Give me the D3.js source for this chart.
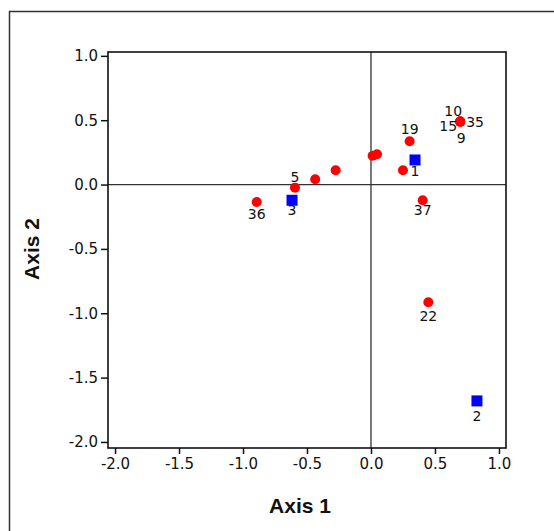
<!DOCTYPE html>
<html>
<head>
<meta charset="utf-8">
<script src="https://cdn.jsdelivr.net/npm/d3@7"></script>
<style>
  body { margin: 0; background: #fff; }
  text { font-family: "DejaVu Sans", Verdana, sans-serif; }
</style>
</head>
<body>
<script>
// sample scores (red circles)
var sampleIds = ["36", "5", "", "", "", "", "", "19", "37", "22", "10", "35", "15", "9"];
var sampleX   = [-0.893, -0.594, -0.436, -0.276, 0.013, 0.047, 0.250, 0.302, 0.404, 0.448, 0.697, 0.697, 0.697, 0.697];
var sampleY   = [-0.135, -0.024, 0.041, 0.111, 0.224, 0.235, 0.111, 0.336, -0.122, -0.915, 0.489, 0.489, 0.489, 0.489];

// group centroids (blue squares)
var groupIds = ["1", "2", "3"];
var groupX   = [0.344, 0.828, -0.617];
var groupY   = [0.191, -1.681, -0.122];

var xTicks = [-2.0, -1.5, -1.0, -0.5, 0.0, 0.5, 1.0];
var yTicks = [1.0, 0.5, 0.0, -0.5, -1.0, -1.5, -2.0];

var width = 554, height = 531;

var svg = d3.select("body")
    .append("svg")
    .attr("width", width)
    .attr("height", height);

// outer frame
svg.append("rect")
    .attr("x", 9.5).attr("y", 11.5)
    .attr("width", width).attr("height", height)
    .attr("fill", "none")
    .attr("stroke", "#333")
    .attr("stroke-width", 1.5);

var x = d3.scaleLinear().domain([-2.055, 1.055]).range([108, 506]);
var y = d3.scaleLinear().domain([-2.047, 1.03]).range([448, 52]);

// zero lines
svg.append("line")
    .attr("x1", x(0)).attr("x2", x(0))
    .attr("y1", y.range()[1]).attr("y2", y.range()[0])
    .attr("stroke", "#333").attr("stroke-width", 1.3);
svg.append("line")
    .attr("x1", x.range()[0]).attr("x2", x.range()[1])
    .attr("y1", y(0)).attr("y2", y(0))
    .attr("stroke", "#333").attr("stroke-width", 1.3);

// plot frame
svg.append("rect")
    .attr("x", 108).attr("y", 52)
    .attr("width", 398).attr("height", 396)
    .attr("fill", "none")
    .attr("stroke", "#111")
    .attr("stroke-width", 1.6);

var xAxis = svg.append("g")
    .attr("transform", "translate(0,448)")
    .call(d3.axisBottom(x).tickValues(xTicks).tickSize(6).tickPadding(4));
var yAxis = svg.append("g")
    .attr("transform", "translate(108,0)")
    .call(d3.axisLeft(y).tickValues(yTicks).tickSize(7).tickPadding(3));

[xAxis, yAxis].forEach(function(a) {
    a.select(".domain").remove();
    a.selectAll("line").attr("stroke", "#111").attr("stroke-width", 1.5);
    a.selectAll("text")
        .style("font-family", "'DejaVu Sans', Verdana, sans-serif")
        .style("font-size", "15px")
        .attr("fill", "#111")
        .text(function(d) { return d.toFixed(1); });
});

// label placement: [dx, dy, anchor]
var place = {
    "36": [0, 17, "middle"], "5": [0, -6, "middle"], "19": [0, -7, "middle"],
    "37": [0, 15, "middle"], "22": [0, 19, "middle"], "10": [-7, -6, "middle"],
    "35": [6, 5, "start"], "15": [-3, 9, "end"], "9": [1, 21, "middle"],
    "1": [0, 16, "middle"], "2": [0, 20, "middle"], "3": [0, 15, "middle"]
};

var samples = sampleIds.map(function(id, i) { return {id: id, x: sampleX[i], y: sampleY[i]}; });
var groups = groupIds.map(function(id, i) { return {id: id, x: groupX[i], y: groupY[i]}; });

svg.selectAll(".sample")
    .data(samples)
    .enter()
    .append("circle")
    .attr("class", "sample")
    .attr("cx", function(d) { return x(d.x); })
    .attr("cy", function(d) { return y(d.y); })
    .attr("r", 5)
    .attr("fill", "#ff0000");

svg.selectAll(".group")
    .data(groups)
    .enter()
    .append("rect")
    .attr("class", "group")
    .attr("x", function(d) { return x(d.x) - 5.5; })
    .attr("y", function(d) { return y(d.y) - 5.5; })
    .attr("width", 11)
    .attr("height", 11)
    .attr("fill", "#0000ff");

svg.selectAll(".lbl")
    .data(samples.concat(groups).filter(function(d) { return d.id !== ""; }))
    .enter()
    .append("text")
    .attr("class", "lbl")
    .attr("x", function(d) { return x(d.x) + place[d.id][0]; })
    .attr("y", function(d) { return y(d.y) + place[d.id][1]; })
    .attr("text-anchor", function(d) { return place[d.id][2]; })
    .style("font-size", "14px")
    .attr("fill", "#111")
    .text(function(d) { return d.id; });

// axis titles
svg.append("text")
    .attr("x", 300).attr("y", 513)
    .attr("text-anchor", "middle")
    .style("font-family", "'Liberation Sans', Arial, sans-serif")
    .style("font-weight", "bold")
    .style("font-size", "21px")
    .attr("fill", "#111")
    .text("Axis 1");

svg.append("text")
    .attr("transform", "translate(39,249) rotate(-90)")
    .attr("text-anchor", "middle")
    .style("font-family", "'Liberation Sans', Arial, sans-serif")
    .style("font-weight", "bold")
    .style("font-size", "21px")
    .attr("fill", "#111")
    .text("Axis 2");
</script>
</body>
</html>
